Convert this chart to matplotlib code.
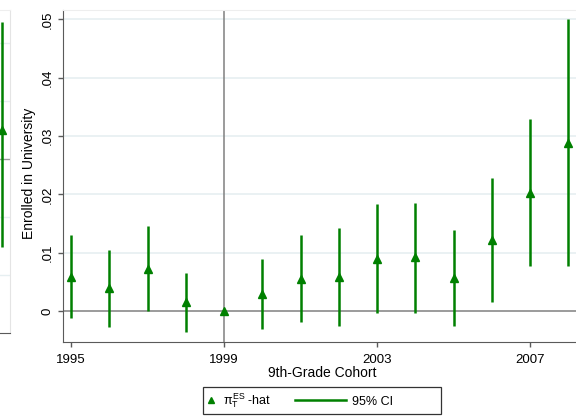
import matplotlib
matplotlib.use("Agg")
import matplotlib.pyplot as plt
from matplotlib.lines import Line2D
from matplotlib.patches import Rectangle
from matplotlib.legend_handler import HandlerLine2D

plt.rcParams['font.family'] = ['Liberation Sans', 'DejaVu Sans']
plt.rcParams['mathtext.fontset'] = 'custom'
plt.rcParams['mathtext.rm'] = 'Liberation Sans'
plt.rcParams['mathtext.it'] = 'Liberation Sans'

# event-study estimates by 9th-grade cohort (1999 is the omitted year)
cohorts = [1995, 1996, 1997, 1998, 1999, 2000, 2001, 2002, 2003, 2004, 2005, 2006, 2007, 2008]
pi_hat = [0.0058, 0.0040, 0.0073, 0.0015, 0.0, 0.0030, 0.0055, 0.0059, 0.0090, 0.0092,
          0.0056, 0.0122, 0.0203, 0.0288]
ci_low = [-0.0012, -0.0027, 0.0000, -0.0035, None, -0.0031, -0.0019, -0.0026, -0.0004,
          -0.0003, -0.0026, 0.0015, 0.0077, 0.0077]
ci_high = [0.0130, 0.0105, 0.0146, 0.0066, None, 0.0090, 0.0130, 0.0143, 0.0183,
           0.0186, 0.0139, 0.0228, 0.0329, 0.0500]

yticks = [0, 0.01, 0.02, 0.03, 0.04, 0.05]
ytick_labels = ['0', '.01', '.02', '.03', '.04', '.05']
xticks = [1995, 1999, 2003, 2007]

# neighbouring panel, only its right edge shows
left_x = [0]
left_pt = [0.005]
left_lo = [-0.0152]
left_hi = [0.0236]
left_grid = [-0.02, -0.01, 0.01, 0.02]

green = '#008000'
grid_c = '#e6eff1'
axis_c = '#5a5a5a'


class WideLine(HandlerLine2D):
    # longer sample line for the CI entry only
    def legend_artist(self, legend, orig_handle, fontsize, handlebox):
        handlebox.width = 4.1 * fontsize
        return super().legend_artist(legend, orig_handle, fontsize, handlebox)


fig = plt.figure(figsize=(5.76, 4.16), dpi=100)

W, H = 576.0, 416.0

# --- partial panel on the far left ---
axl = fig.add_axes([0, (H - 333) / H, 10 / W, (333 - 9.5) / H])
axl.set_xlim(-0.15, 0.85)
axl.set_ylim(-0.030, 0.0258)
for g in left_grid:
    axl.axhline(g, color=grid_c, lw=1, zorder=0)
axl.axhline(0, color='#9a9a9a', lw=1, zorder=1)
axl.vlines(left_x, left_lo, left_hi, color=green, lw=1.8, zorder=2)
axl.plot(left_x, left_pt, '^', color=green, ms=6, zorder=3)
axl.set_xticks([])
axl.set_yticks([])
axl.spines['left'].set_visible(False)
axl.spines['top'].set_color('#eeeeee')
axl.spines['right'].set_color('#e4e4e4')
axl.spines['bottom'].set_color(axis_c)

# --- main panel ---
ax = fig.add_axes([63 / W, (H - 342) / H, (W - 63) / W + 0.01, (342 - 9.5) / H])
ax.set_xlim(1994.79, 2008.35)
ax.set_ylim(-0.0053, 0.0517)

for y in yticks[1:]:
    ax.axhline(y, color=grid_c, lw=1.2, zorder=0)
ax.axhline(0, color='#808080', lw=1.1, zorder=1)
ax.axvline(1999, color='#808080', lw=1.1, zorder=1)

for x, lo, hi in zip(cohorts, ci_low, ci_high):
    if lo is None:
        continue
    ax.vlines(x, lo, hi, color=green, lw=1.8, zorder=2)
ax.plot(cohorts, pi_hat, '^', color=green, ms=6, ls='none', zorder=3)

ax.set_yticks(yticks)
ax.set_yticklabels(ytick_labels, rotation=90, va='center')
ax.set_xticks(xticks)
ax.tick_params(axis='both', labelsize=9.5, length=3.5, color=axis_c, width=1)
ax.tick_params(axis='x', pad=5)
ax.tick_params(axis='y', pad=3)

ax.spines['left'].set_color(axis_c)
ax.spines['bottom'].set_color(axis_c)
ax.spines['top'].set_color('#eeeeee')
ax.spines['right'].set_visible(False)

ax.set_xlabel('9th-Grade Cohort', fontsize=10, labelpad=0)
ax.set_ylabel('Enrolled in University', fontsize=10)
ax.yaxis.set_label_coords(-0.053, 0.508)

# legend: frame drawn separately so the box can be wider than its entries
handles = [
    Line2D([], [], marker='^', color=green, ls='none', ms=5),
    Line2D([], [], color=green, lw=1.8),
]
labels = [r'$\pi_{\mathrm{T}}^{\mathrm{ES}}$ -hat', '95% CI']
leg = fig.legend(handles, labels, ncol=2, loc='center left',
                 bbox_to_anchor=(205 / W, (H - 401) / H),
                 fontsize=9, frameon=False, borderpad=0, borderaxespad=0,
                 handlelength=1.0, handletextpad=0.45, columnspacing=1.9,
                 handler_map={handles[1]: WideLine()})
fig.patches.append(Rectangle((203 / W, (H - 414) / H), 238 / W, 27 / H,
                             transform=fig.transFigure, fill=False,
                             edgecolor='#333333', lw=0.9))

fig.savefig('out.png', dpi=100, facecolor='white')
